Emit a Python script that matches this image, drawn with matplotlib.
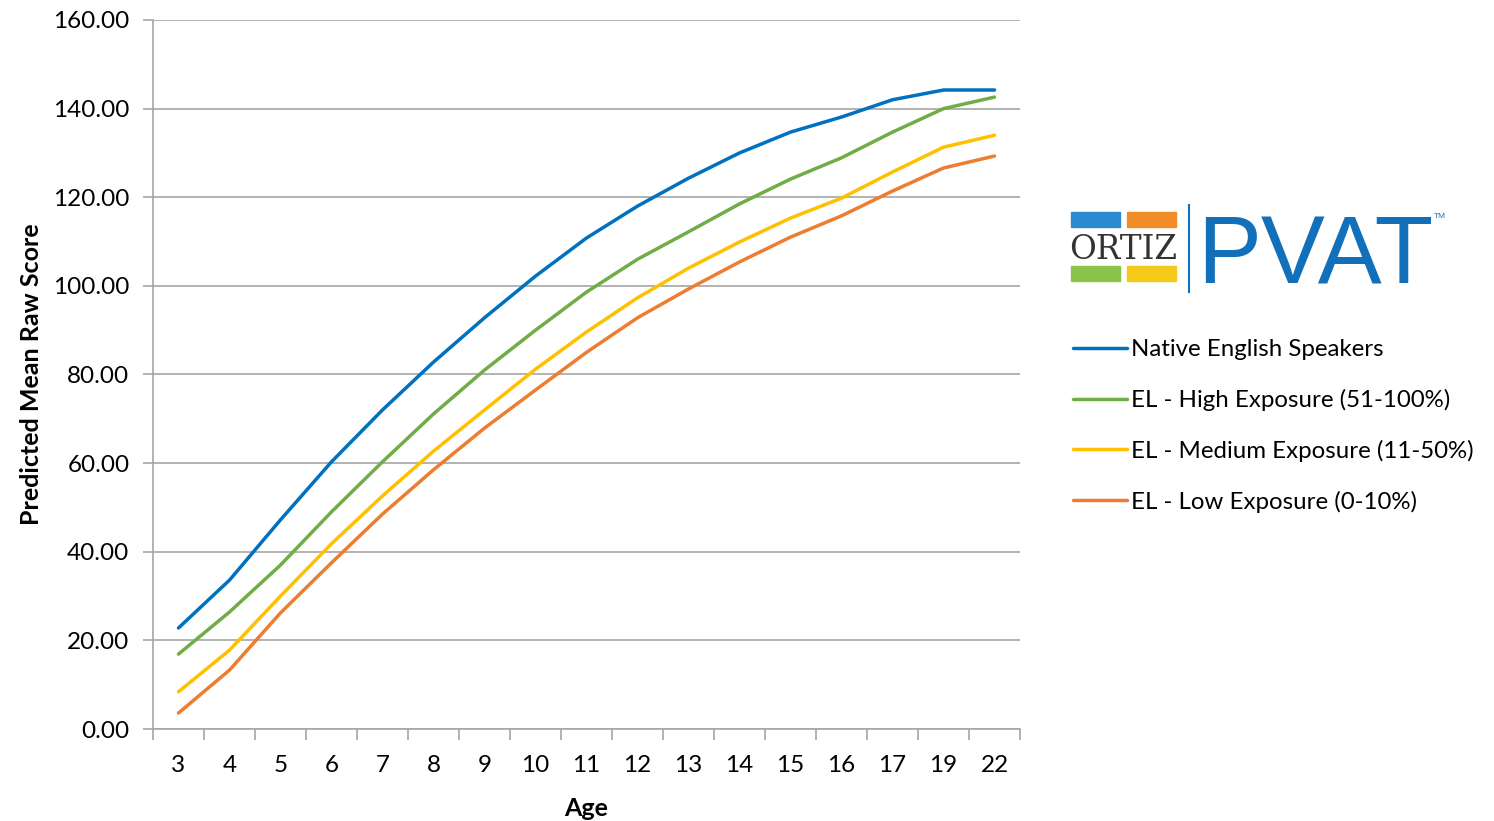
import matplotlib
matplotlib.use("Agg")
import matplotlib.pyplot as plt
import matplotlib.patches as mpatches
from matplotlib.lines import Line2D
import numpy as np

plt.rcParams['font.family'] = ['Lato', 'DejaVu Sans']

ages = ["3", "4", "5", "6", "7", "8", "9", "10", "11", "12", "13", "14", "15", "16", "17", "19", "22"]

native = [22.8, 33.6, 47.2, 60.3, 72.0, 82.8, 92.8, 102.2, 110.8, 118.0, 124.3, 130.0, 134.7, 138.1, 142.0, 144.2, 144.2]
high = [16.9, 26.4, 37.0, 49.0, 60.3, 71.1, 81.0, 90.0, 98.6, 106.0, 112.2, 118.5, 124.1, 128.9, 134.7, 140.0, 142.6]
medium = [8.4, 17.8, 30.0, 41.8, 52.6, 62.7, 72.0, 81.2, 89.6, 97.3, 104.0, 109.9, 115.3, 119.8, 125.7, 131.3, 134.0]
low = [3.6, 13.3, 26.2, 37.5, 48.5, 58.5, 67.9, 76.5, 85.0, 92.8, 99.3, 105.4, 111.0, 115.8, 121.4, 126.6, 129.3]

labels = ["Native English Speakers", "EL - High Exposure (51-100%)",
          "EL - Medium Exposure (11-50%)", "EL - Low Exposure (0-10%)"]
colors = ["#0070C0", "#70AD47", "#FFC000", "#ED7D31"]

fig = plt.figure(figsize=(14.94, 8.21), dpi=100)
ax = fig.add_axes([153 / 1494, 1 - 729 / 821, 867 / 1494, 709 / 821])

x = np.arange(len(ages))
for serie, kolor, nazwa in zip([native, high, medium, low], colors, labels):
    ax.plot(x, serie, color=kolor, lw=2.5, label=nazwa, solid_capstyle='round')

ax.set_xlim(-0.5, len(ages) - 0.5)
ax.set_ylim(0, 160)
ax.set_yticks(np.arange(0, 161, 20))
ax.set_yticklabels([f"{v:.2f}" for v in range(0, 161, 20)])
ax.yaxis.grid(True, color="#A6A6A6", lw=1.2)
ax.set_axisbelow(True)

ax.set_xticks(x)
ax.set_xticklabels(ages)
ax.set_xticks(np.arange(-0.5, len(ages), 1), minor=True)
ax.tick_params(axis='x', which='major', length=0, pad=19, labelsize=17.5)
ax.tick_params(axis='x', which='minor', length=8, color="#A6A6A6", width=1.2)
ax.tick_params(axis='y', length=7, color="#A6A6A6", width=1.2, labelsize=17.5, pad=10)

for s in ['top', 'right']:
    ax.spines[s].set_visible(False)
for s in ['left', 'bottom']:
    ax.spines[s].set_color("#A6A6A6")
    ax.spines[s].set_linewidth(1.2)

ax.set_xlabel("Age", fontsize=18, fontweight='bold', labelpad=15)
ax.set_ylabel("Predicted Mean Raw Score", fontsize=18, fontweight='bold', labelpad=7)

leg = ax.legend(loc='upper left', bbox_to_anchor=(1061 / 1494, 1 - 327 / 821),
                bbox_transform=fig.transFigure, frameon=False, fontsize=17.3,
                handlelength=2.25, handletextpad=0.15, labelspacing=1.2, borderpad=0)
for h in leg.get_lines():
    h.set_linewidth(2.5)

# logo ORTIZ | PVAT
def px(xp, yp):
    return xp / 1494, 1 - yp / 821

for (x0, y0, c) in [(1071, 227, "#2B8AD0"), (1127, 227, "#F28C28"),
                    (1071, 281, "#8BC34A"), (1127, 281, "#F5C918")]:
    fx, fy = px(x0, y0)
    fig.patches.append(mpatches.Rectangle((fx, fy), 49 / 1494, 15 / 821,
                                          transform=fig.transFigure, color=c))
fx, fy = px(1123.5, 259)
fig.text(fx, fy, "ORTIZ", family="DejaVu Serif", fontsize=23.5, color="#333333",
         ha='center', va='baseline')
fig.add_artist(Line2D([1189 / 1494] * 2, [1 - 205 / 821, 1 - 292 / 821],
                      transform=fig.transFigure, color="#1170B9", lw=1.5))
fx, fy = px(1197, 283)
fig.text(fx, fy, "PVAT", family="Liberation Sans", fontsize=69, color="#1170B9",
         ha='left', va='baseline')
fx, fy = px(1434, 218)
fig.text(fx, fy, "TM", family="Liberation Sans", fontsize=6, color="#1170B9",
         ha='left', va='baseline')

fig.savefig("out.png", dpi=100)
